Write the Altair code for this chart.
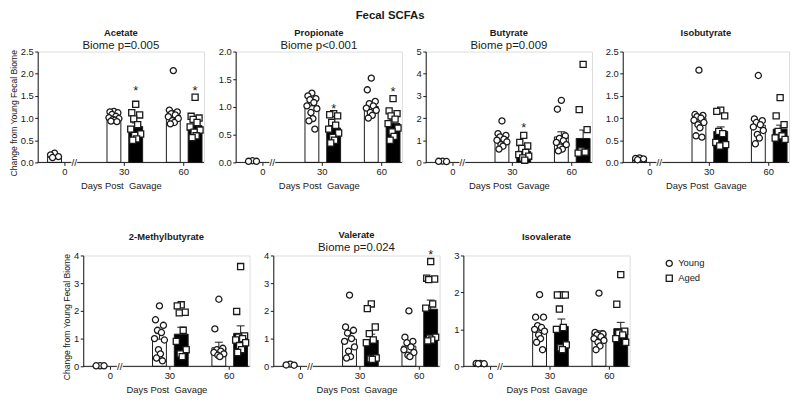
import altair as alt
import pandas as pd

FONT = "Liberation Sans"
INK = "#1a1a1a"

DAYS = ["0", "30", "60"]
GROUPS = ["Young", "Aged"]
# slot order: day0 Young, day30 Young, day30 Aged, day60 Young, day60 Aged
SLOTS = [(0, "Young"), (1, "Young"), (1, "Aged"), (2, "Young"), (2, "Aged")]

# ---------------- data ----------------
acetate_mean = [0.14, 1.01, 0.81, 1.07, 0.83]
acetate_sem = [0.02, 0.03, 0.08, 0.10, 0.07]
acetate_pts = [
    [0.11, 0.13, 0.17, 0.21],
    [1.15, 1.14, 1.12, 1.08, 1.04, 1.01, 0.99, 0.97, 0.95, 0.93, 0.92],
    [1.31, 1.12, 1.07, 0.98, 0.85, 0.75, 0.64, 0.61, 0.53, 0.50],
    [2.07, 1.18, 1.14, 1.10, 1.07, 1.03, 0.99, 0.94, 0.90, 0.87],
    [1.47, 1.04, 1.00, 0.97, 0.90, 0.80, 0.73, 0.68, 0.60, 0.56],
]
acetate_star = [(1, "Aged", 1.68), (2, "Aged", 1.68)]

propionate_mean = [0.02, 1.02, 0.62, 1.01, 0.70]
propionate_sem = [0.005, 0.06, 0.06, 0.07, 0.07]
propionate_pts = [
    [0.02, 0.02, 0.03],
    [1.25, 1.20, 1.15, 1.13, 1.08, 1.02, 0.97, 0.90, 0.79, 0.75, 0.60],
    [0.88, 0.86, 0.84, 0.72, 0.67, 0.60, 0.53, 0.45, 0.40, 0.35],
    [1.52, 1.31, 1.10, 1.06, 1.02, 0.98, 0.94, 0.90, 0.85, 0.80],
    [1.15, 0.93, 0.88, 0.84, 0.78, 0.70, 0.62, 0.55, 0.47, 0.40],
]
propionate_star = [(1, "Aged", 1.02), (2, "Aged", 1.32)]

butyrate_mean = [0.05, 0.99, 0.50, 1.15, 1.08]
butyrate_sem = [0.01, 0.10, 0.12, 0.23, 0.38]
butyrate_pts = [
    [0.04, 0.05, 0.06],
    [1.87, 1.30, 1.22, 1.15, 1.05, 1.00, 0.93, 0.80, 0.73, 0.60],
    [1.22, 0.90, 0.74, 0.63, 0.45, 0.35, 0.28, 0.20, 0.10],
    [2.80, 2.40, 1.20, 1.08, 0.98, 0.90, 0.80, 0.70, 0.60, 0.52],
    [4.42, 2.38, 1.48, 0.52, 0.46, 0.42],
]
butyrate_star = [(1, "Aged", 1.70)]

isobutyrate_mean = [0.08, 1.00, 0.70, 0.84, 0.75]
isobutyrate_sem = [0.01, 0.05, 0.10, 0.06, 0.09]
isobutyrate_pts = [
    [0.06, 0.08, 0.09, 0.10],
    [2.08, 1.08, 1.06, 1.03, 1.00, 0.95, 0.90, 0.85, 0.78, 0.60, 0.57],
    [1.18, 1.15, 1.05, 0.70, 0.65, 0.45, 0.40, 0.37],
    [1.96, 0.98, 0.94, 0.90, 0.85, 0.80, 0.72, 0.63, 0.55, 0.42],
    [1.46, 1.05, 0.85, 0.70, 0.60, 0.55, 0.52],
]
isobutyrate_star = []

methylbutyrate_mean = [0.02, 0.98, 1.16, 0.67, 1.19]
methylbutyrate_sem = [0.005, 0.20, 0.25, 0.20, 0.27]
methylbutyrate_pts = [
    [0.02, 0.02, 0.02],
    [2.18, 1.68, 1.48, 1.30, 1.22, 1.00, 0.95, 0.60, 0.45, 0.30, 0.20],
    [2.22, 2.18, 1.95, 1.93, 1.30, 0.90, 0.60, 0.45, 0.35],
    [2.42, 1.35, 0.65, 0.60, 0.55, 0.50, 0.45, 0.40, 0.35],
    [3.60, 1.98, 1.10, 1.05, 1.00, 0.95, 0.85, 0.75, 0.60, 0.50],
]
methylbutyrate_star = []

valerate_mean = [0.05, 0.98, 0.94, 0.73, 2.06]
valerate_sem = [0.01, 0.20, 0.22, 0.16, 0.33]
valerate_pts = [
    [0.04, 0.05, 0.08],
    [2.57, 1.42, 1.30, 1.20, 1.00, 0.90, 0.70, 0.55, 0.35, 0.30],
    [2.25, 2.08, 1.42, 1.18, 0.95, 0.85, 0.30, 0.27, 0.25],
    [2.00, 1.05, 0.90, 0.85, 0.70, 0.60, 0.50, 0.40, 0.35],
    [3.78, 3.18, 3.15, 3.13, 2.25, 2.10, 1.05, 1.02, 0.95, 0.92],
]
valerate_star = [(2, "Aged", 4.14)]

isovalerate_mean = [0.07, 0.98, 1.08, 0.90, 1.02]
isovalerate_sem = [0.005, 0.08, 0.20, 0.06, 0.17]
isovalerate_pts = [
    [0.07, 0.07, 0.08, 0.08],
    [1.94, 1.33, 1.33, 1.10, 1.05, 1.00, 0.95, 0.85, 0.75, 0.65, 0.45],
    [1.93, 1.93, 1.93, 1.55, 1.05, 1.00, 0.58, 0.50, 0.45],
    [1.98, 0.92, 0.88, 0.85, 0.80, 0.75, 0.70, 0.65, 0.55, 0.45],
    [2.48, 1.68, 0.95, 0.90, 0.85, 0.75, 0.65],
]
isovalerate_star = []

TOP = [
    ("Acetate", "Biome p=0.005", 2.5, 0.5, acetate_mean, acetate_sem, acetate_pts, acetate_star),
    ("Propionate", "Biome p<0.001", 2.0, 0.5, propionate_mean, propionate_sem, propionate_pts, propionate_star),
    ("Butyrate", "Biome p=0.009", 5, 1, butyrate_mean, butyrate_sem, butyrate_pts, butyrate_star),
    ("Isobutyrate", "", 2.5, 0.5, isobutyrate_mean, isobutyrate_sem, isobutyrate_pts, isobutyrate_star),
]
BOTTOM = [
    ("2-Methylbutyrate", "", 4, 1, methylbutyrate_mean, methylbutyrate_sem, methylbutyrate_pts, methylbutyrate_star),
    ("Valerate", "Biome p=0.024", 4, 1, valerate_mean, valerate_sem, valerate_pts, valerate_star),
    ("Isovalerate", "", 3, 1, isovalerate_mean, isovalerate_sem, isovalerate_pts, isovalerate_star),
]
YTITLE = "Change from Young Fecal Biome"
XTITLE = "Days Post\u00a0 Gavage"

# ---------------- layout / style ----------------
W, H = 168, 112
PX = 60.0
XMIN = -27 / PX
XMAX = (W - 27) / PX
OFF = {"Young": -10 / PX, "Aged": 12 / PX}
HALF = 7 / PX
CAP = 4 / PX
BREAK = 10 / PX
JIT = [0, -4, 4, -2, 2, -5, 5, -1, 1, -3, 3, 0]

label_expr = "[" + ",".join("'%s'" % d for d in DAYS) + "][datum.value]"
shape_scale = alt.Scale(domain=GROUPS, range=["circle", "square"])
PT = dict(size=38, fill="white", fillOpacity=1, stroke=INK, strokeWidth=1.3, opacity=1)
NOFRAME = alt.ViewBackground(stroke="transparent", strokeWidth=0)


def panel(name, ptxt, ymax, step, mean, sem, pts, stars, ytitle):
    xscale = alt.Scale(domain=[XMIN, XMAX], nice=False, zero=False)
    xaxis = alt.Axis(values=[0, 1, 2], labelExpr=label_expr, title=XTITLE,
                     domain=False, grid=False, tickSize=3, tickColor=INK,
                     labelPadding=1, titlePadding=5, labelFlush=False)
    n = int(round(ymax / step))
    vals = [round(i * step, 2) for i in range(n + 1)]
    fmt = ".1f" if step < 1 else "d"
    yscale = alt.Scale(domain=[0, ymax], nice=False, zero=True)
    yaxis = alt.Axis(values=vals, format=fmt, title=ytitle, grid=False,
                     tickSize=3, tickColor=INK, domainColor=INK,
                     labelPadding=1.5, titlePadding=2, titleY=-2, titleAlign="right",
                     titleFontSize=8.7)

    def X(f):
        return alt.X(f, type="quantitative", scale=xscale, axis=xaxis)

    def Y(f):
        return alt.Y(f, type="quantitative", scale=yscale, axis=yaxis)

    rows = []
    for i, (d, g) in enumerate(SLOTS):
        xc = d + OFF[g]
        rows.append(dict(group=g, xc=xc, xl=xc - HALF, xr=xc + HALF,
                         capl=xc - CAP, capr=xc + CAP, mean=mean[i],
                         top=mean[i] + sem[i], zero=0.0))
    bars = pd.DataFrame(rows)

    prow = []
    for i, (d, g) in enumerate(SLOTS):
        xc = d + OFF[g]
        for k, v in enumerate(sorted(pts[i], reverse=True)):
            prow.append(dict(group=g, xp=xc + JIT[k % len(JIT)] / PX, value=v))
    pdf = pd.DataFrame(prow)

    base_bar = alt.Chart(bars)
    bar = base_bar.mark_rect(stroke=INK, strokeWidth=1).encode(
        x=X("xl"), x2="xr", y=Y("mean"), y2="zero",
        fill=alt.Fill("group:N", scale=alt.Scale(domain=GROUPS, range=["white", "black"]), legend=None),
    )
    err = base_bar.mark_rule(color=INK, strokeWidth=1).encode(x=X("xc"), y=Y("mean"), y2="top")
    cap = base_bar.mark_rule(color=INK, strokeWidth=1).encode(x=X("capl"), x2="capr", y=Y("top"))

    points = alt.Chart(pdf).mark_point(**PT).encode(
        x=X("xp"), y=Y("value"),
        shape=alt.Shape("group:N", scale=shape_scale, legend=None),
    )

    axis_df = pd.DataFrame([dict(a=XMIN, b=BREAK - 3 / PX, y=0.0),
                            dict(a=BREAK + 3 / PX, b=XMAX, y=0.0)])
    xline = alt.Chart(axis_df).mark_rule(color=INK, strokeWidth=1).encode(x=X("a"), x2="b", y=Y("y"))
    brk = alt.Chart(pd.DataFrame([dict(xb=BREAK, y=0.0)])).mark_text(
        text="//", fontSize=10, font=FONT, color=INK, baseline="middle", dy=1
    ).encode(x=X("xb"), y=Y("y"))

    layers = [bar, err, cap, xline, brk, points]
    if stars:
        sdf = pd.DataFrame([dict(xs=d + OFF[g], ys=y) for d, g, y in stars])
        star = alt.Chart(sdf).mark_text(text="*", fontSize=13, font=FONT, color=INK,
                                        baseline="middle", dy=3).encode(x=X("xs"), y=Y("ys"))
        layers.append(star)

    title = alt.TitleParams(text=name, subtitle=ptxt if ptxt else " ", fontSize=9.5,
                            fontWeight="bold", font=FONT, color=INK, subtitleFont=FONT,
                            subtitleFontSize=11.5, subtitleColor=INK, subtitlePadding=3,
                            offset=-5, anchor="middle")
    return alt.layer(*layers).properties(width=W, height=H, title=title)


top_panels = [panel(*p, ytitle=(YTITLE if i == 0 else None)) for i, p in enumerate(TOP)]
bot_panels = [panel(*p, ytitle=(YTITLE if i == 0 else None)) for i, p in enumerate(BOTTOM)]

spacer = alt.Chart(pd.DataFrame({"v": [0]})).mark_point(opacity=0).encode(
    x=alt.value(0), y=alt.value(0)).properties(width=14, height=H, view=NOFRAME)

# legend panel, drawn from the group names
leg_df = pd.DataFrame({"group": GROUPS})
leg_y = alt.Y("group:N", scale=alt.Scale(type="point", domain=GROUPS, range=[8, 23], padding=0), axis=None)
leg_pts = alt.Chart(leg_df).mark_point(**PT).encode(
    x=alt.value(27), y=leg_y, shape=alt.Shape("group:N", scale=shape_scale, legend=None))
leg_txt = alt.Chart(leg_df).mark_text(align="left", baseline="middle", font=FONT, fontSize=9.5,
                                      color=INK, dx=9).encode(
    x=alt.value(27), y=leg_y, text="group:N")
legend = alt.layer(leg_pts, leg_txt).properties(width=80, height=H, view=NOFRAME)

row1 = alt.hconcat(*top_panels, spacing=10)
row2 = alt.hconcat(spacer, *bot_panels, legend, spacing=10)

chart = alt.vconcat(row1, row2, spacing=38).properties(
    title=alt.TitleParams("Fecal SCFAs", fontSize=11.5, fontWeight="bold", font=FONT,
                          color=INK, anchor="middle", offset=6, dx=-10),
    padding=0,
).configure_view(stroke=None, strokeWidth=0).configure(font=FONT).configure_axis(
    labelFont=FONT, titleFont=FONT, labelFontSize=9.5, titleFontSize=9.5,
    titleFontWeight="normal", labelColor=INK, titleColor=INK,
)

chart.save("out.html", embed_options={"renderer": "svg", "actions": False})
